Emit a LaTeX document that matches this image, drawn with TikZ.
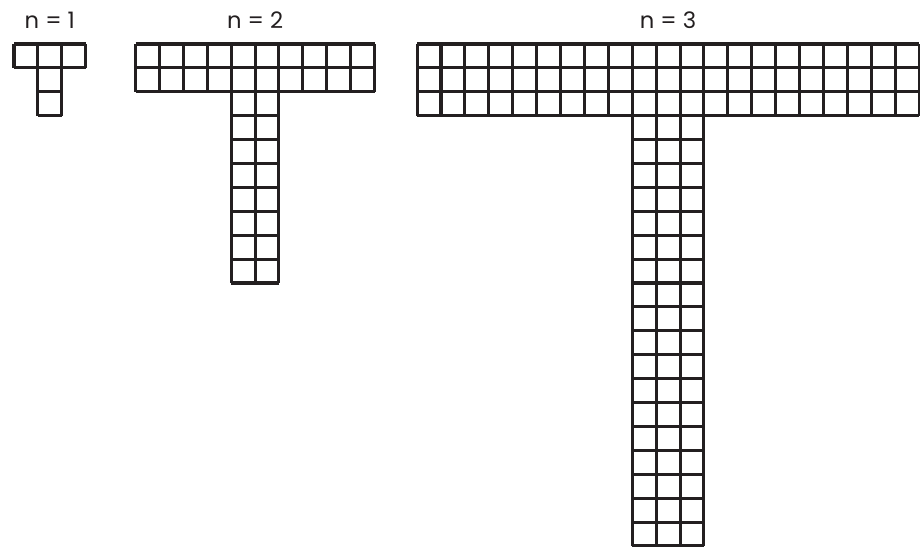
\documentclass[tikz,border=0pt]{standalone}
\usepackage{fontspec}
\setsansfont{Poppins}
\usepackage{xcolor}
\definecolor{tileink}{RGB}{35,31,32}
\tikzset{
  tilegrid/.style = {draw=tileink,line width=1.8pt,step=0.5cm},
  nlabel/.style   = {font=\sffamily\fontsize{13.5}{15}\selectfont,text=tileink,
                     inner sep=0pt,anchor=center},
}

\begin{document}
\begin{tikzpicture}[x=0.5cm,y=0.5cm]
  \useasboundingbox (0,0) rectangle (38.49,-22.85);
  % n = 1 : 3 wide, 1 row, stem 1 x 2
  \begin{scope}[shift={(0.586,-1.84)}]
    \draw[tilegrid] (0,0) grid (3,-1);
    \draw[tilegrid] (1,-1) grid (2,-3);
    \node[nlabel] (lab1) at (1.5,0.98) {n = 1};
  \end{scope}
  % n = 2 : 10 wide, 2 rows, stem 2 x 8
  \begin{scope}[shift={(5.67,-1.84)}]
    \draw[tilegrid] (0,0) grid (10,-2);
    \draw[tilegrid] (4,-2) grid (6,-10);
    \node[nlabel] (lab2) at (5,0.98) {n = 2};
  \end{scope}
  % n = 3 : 21 wide, 3 rows, stem 3 x 18
  \begin{scope}[shift={(17.45,-1.84)}]
    \draw[tilegrid] (0,0) grid (21,-3);
    \draw[tilegrid] (9,-3) grid (12,-21);
    \node[nlabel] (lab3) at (10.5,0.98) {n = 3};
  \end{scope}
\end{tikzpicture}
\end{document}
